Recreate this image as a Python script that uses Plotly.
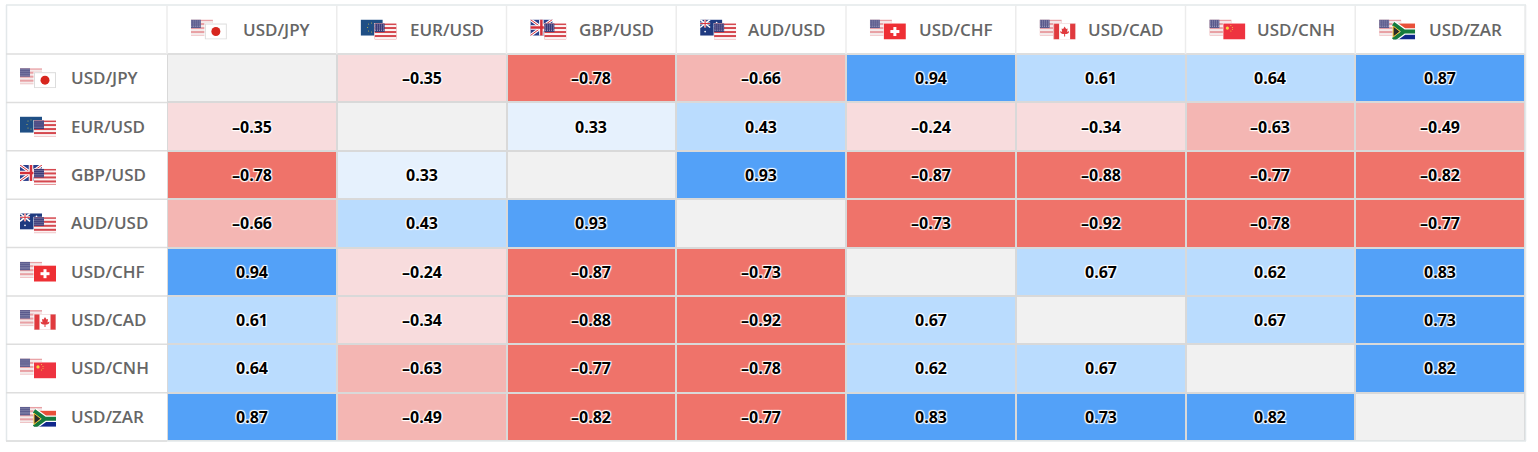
import base64
import plotly.graph_objects as go

pairs = ["USD/JPY", "EUR/USD", "GBP/USD", "AUD/USD", "USD/CHF", "USD/CAD", "USD/CNH", "USD/ZAR"]
usd_jpy = [1.00, -0.35, -0.78, -0.66, 0.94, 0.61, 0.64, 0.87]
eur_usd = [-0.35, 1.00, 0.33, 0.43, -0.24, -0.34, -0.63, -0.49]
gbp_usd = [-0.78, 0.33, 1.00, 0.93, -0.87, -0.88, -0.77, -0.82]
aud_usd = [-0.66, 0.43, 0.93, 1.00, -0.73, -0.92, -0.78, -0.77]
usd_chf = [0.94, -0.24, -0.87, -0.73, 1.00, 0.67, 0.62, 0.83]
usd_cad = [0.61, -0.34, -0.88, -0.92, 0.67, 1.00, 0.67, 0.73]
usd_cnh = [0.64, -0.63, -0.77, -0.78, 0.62, 0.67, 1.00, 0.82]
usd_zar = [0.87, -0.49, -0.82, -0.77, 0.83, 0.73, 0.82, 1.00]
matrix = [usd_jpy, eur_usd, gbp_usd, aud_usd, usd_chf, usd_cad, usd_cnh, usd_zar]

labels = [["" if i == j else f"{v:.2f}".replace("-", "\u2013") for j, v in enumerate(row)]
          for i, row in enumerate(matrix)]

# Stepped scale over -1..1: red, pale red, faint red, faint blue, mid blue, strong blue, self-cell grey
stops = [(-1, "#ef736a"), (-0.7, "#f4b6b3"), (-0.4, "#f8dcdd"), (0, "#e6f1fd"),
         (0.4, "#badcfe"), (0.7, "#53a1f8"), (0.97, "#f1f1f1"), (1, None)]
colorscale = []
for (a, c), (b, _) in zip(stops[:-1], stops[1:]):
    colorscale += [[(a + 1) / 2, c], [(b + 1) / 2, c]]

W, H = 1538, 452
L, R, T, B = 167, 1525, 53.5, 441
pw, ph = R - L, B - T
px = lambda x: (x - L) / pw
py = lambda y: (B - y) / ph


def us():
    s = '<rect width="44" height="32" fill="#e8a0a4"/>'
    for i in range(4):
        s += f'<rect y="{i*8+3}" width="44" height="4" fill="#f4eaea"/>'
    s += '<rect width="20" height="17" fill="#5a5a8c"/>'
    for y in (3, 7, 11, 14):
        for x in range(2, 20, 4):
            s += f'<circle cx="{x}" cy="{y}" r="0.9" fill="#d8d8e8"/>'
    return s


def us_front():
    s = '<rect width="44" height="32" fill="#d5484f"/>'
    for i in range(4):
        s += f'<rect y="{i*8+3}" width="44" height="4" fill="#fbf3f3"/>'
    s += '<rect width="20" height="17" fill="#3c3b78"/>'
    for y in (3, 7, 11, 14):
        for x in range(2, 20, 4):
            s += f'<circle cx="{x}" cy="{y}" r="0.9" fill="#e8e8f4"/>'
    return s


def jp():
    return ('<rect x="1" y="1" width="42" height="30" fill="#fff" stroke="#dcdcdc" stroke-width="2"/>'
            '<circle cx="22" cy="16" r="9" fill="#d7261e"/>')


def eu():
    s = '<rect width="44" height="32" fill="#1f4f85"/>'
    for x, y in [(22, 7), (28, 9), (30, 16), (28, 23), (22, 25), (16, 23), (14, 16), (16, 9)]:
        s += f'<circle cx="{x}" cy="{y}" r="1" fill="#d9c64a"/>'
    return s


def gb():
    return ('<rect width="44" height="32" fill="#2b3f8c"/>'
            '<path d="M0 0L44 32M44 0L0 32" stroke="#fff" stroke-width="6"/>'
            '<path d="M0 0L44 32M44 0L0 32" stroke="#d5303a" stroke-width="2"/>'
            '<path d="M22 0V32M0 16H44" stroke="#fff" stroke-width="9"/>'
            '<path d="M22 0V32M0 16H44" stroke="#d5303a" stroke-width="5"/>')


def au():
    s = ('<rect width="44" height="32" fill="#1f3a80"/>'
         '<path d="M0 0L20 16M20 0L0 16" stroke="#fff" stroke-width="3"/>'
         '<path d="M10 0V16M0 8H20" stroke="#fff" stroke-width="4"/>'
         '<path d="M10 0V16M0 8H20" stroke="#d5303a" stroke-width="2"/>')
    for x, y in [(10, 24), (33, 6), (38, 13), (29, 14), (33, 25)]:
        s += f'<circle cx="{x}" cy="{y}" r="1.7" fill="#fff"/>'
    return s


def ch():
    return ('<rect width="44" height="32" fill="#ee2f34"/>'
            '<rect x="19" y="7" width="6" height="18" fill="#fff"/>'
            '<rect x="13" y="13" width="18" height="6" fill="#fff"/>')


def ca():
    return ('<rect width="44" height="32" fill="#fff"/>'
            '<rect width="11" height="32" fill="#e03a3e"/><rect x="33" width="11" height="32" fill="#e03a3e"/>'
            '<path d="M22 6L25 11L28 10L27 17L31 15L30 19L26 21L23 21V26H21V21L18 21L14 19L13 15L17 17L16 10L19 11Z" fill="#e03a3e"/>'
            '<rect x="0.5" y="0.5" width="43" height="31" fill="none" stroke="#e8c8c8"/>')


def cn():
    s = '<rect width="44" height="32" fill="#ee3340"/><circle cx="8" cy="9" r="3.2" fill="#f5d742"/>'
    for x, y in [(15, 4), (18, 8), (18, 12), (15, 15)]:
        s += f'<circle cx="{x}" cy="{y}" r="1" fill="#f5d742"/>'
    return s


def za():
    return ('<rect width="44" height="16" fill="#e8503a"/><rect y="16" width="44" height="16" fill="#10288c"/>'
            '<path d="M0 0L22 16L0 32M22 16H44" stroke="#fff" stroke-width="13" fill="none"/>'
            '<path d="M0 0L22 16L0 32M22 16H44" stroke="#157a3e" stroke-width="8" fill="none"/>'
            '<path d="M0 5L14 16L0 27Z" fill="#2a2a2a" stroke="#f0bf30" stroke-width="2"/>')


flag_pairs = {"USD/JPY": (us, jp), "EUR/USD": (eu, us_front), "GBP/USD": (gb, us_front),
              "AUD/USD": (au, us_front), "USD/CHF": (us, ch), "USD/CAD": (us, ca),
              "USD/CNH": (us, cn), "USD/ZAR": (us, za)}


def flag_uri(pair):
    back, front = flag_pairs[pair]
    svg = ('<svg xmlns="http://www.w3.org/2000/svg" width="72" height="40" viewBox="0 0 72 40">'
           f'<g>{back()}</g><g transform="translate(28 8)">'
           f'<rect x="-1" y="-1" width="46" height="34" fill="#fff"/>{front()}</g></svg>')
    return "data:image/svg+xml;base64," + base64.b64encode(svg.encode()).decode()


cw, rh = pw / 8, ph / 8
images, annotations, shapes = [], [], []
label_font = dict(family="Open Sans", size=17, color="#666666", weight=600)
for i, p in enumerate(pairs):
    cx = L + cw * (i + 0.5)
    cy = T + rh * (i + 0.5)
    # header
    annotations.append(dict(text=p, x=px(cx + 25.5), y=py(29), xref="paper", yref="paper",
                            xanchor="center", yanchor="middle", showarrow=False, font=label_font))
    images.append(dict(source=flag_uri(p), xref="paper", yref="paper", x=px(cx - 61), y=py(19),
                       sizex=36 / pw, sizey=20 / ph, xanchor="left", yanchor="top", sizing="stretch"))
    # row
    annotations.append(dict(text=p, x=px(69), y=py(cy - 0.5), xref="paper", yref="paper",
                            xanchor="left", yanchor="middle", showarrow=False, font=label_font))
    images.append(dict(source=flag_uri(p), xref="paper", yref="paper", x=px(20), y=py(cy - 10),
                       sizex=36 / pw, sizey=20 / ph, xanchor="left", yanchor="top", sizing="stretch"))


def line(x0, y0, x1, y1, color, width=1.5):
    shapes.append(dict(type="line", xref="paper", yref="paper", x0=px(x0), y0=py(y0), x1=px(x1), y1=py(y1),
                       line=dict(color=color, width=width), layer="below"))


line(6, 4.5, 1526, 4.5, "#e3e8ea")
line(6, 441, 1526, 441, "#e3e8ea")
line(6.5, 4.5, 6.5, 441, "#e3e8ea")
line(1525.5, 4.5, 1525.5, 441, "#e3e8ea")
for k in range(0, 9):
    line(6, T + rh * k, 167, T + rh * k, "#dedede")
line(167, T, 1525, T, "#dedede", 2)
for k in range(0, 9):
    line(L + cw * k, 5, L + cw * k, T, "#ececec")

fig = go.Figure(go.Heatmap(
    z=matrix, x=pairs, y=pairs, text=labels, texttemplate="%{text}",
    textfont=dict(family="Open Sans", size=16, color="#000000", weight=700,
                  shadow="1px 1px 1px #fff, -1px -1px 1px #fff, 1px -1px 1px #fff, -1px 1px 1px #fff"),
    colorscale=colorscale, zmin=-1, zmax=1, showscale=False, xgap=2, ygap=2, hoverinfo="skip"))
fig.update_xaxes(visible=False, fixedrange=True, categoryorder="array", categoryarray=pairs)
fig.update_yaxes(visible=False, fixedrange=True, autorange="reversed", categoryorder="array", categoryarray=pairs)
fig.update_layout(
    width=W, height=H, autosize=False, paper_bgcolor="#ffffff", plot_bgcolor="#d9d9d9",
    margin=dict(l=L, r=W - R, t=T, b=H - B, pad=0),
    images=images, annotations=annotations, shapes=shapes,
    font=dict(family="Open Sans"))
fig.write_html("out.html", config={"displayModeBar": False},
               post_script="document.body.style.margin='0';document.body.style.overflow='hidden';")
